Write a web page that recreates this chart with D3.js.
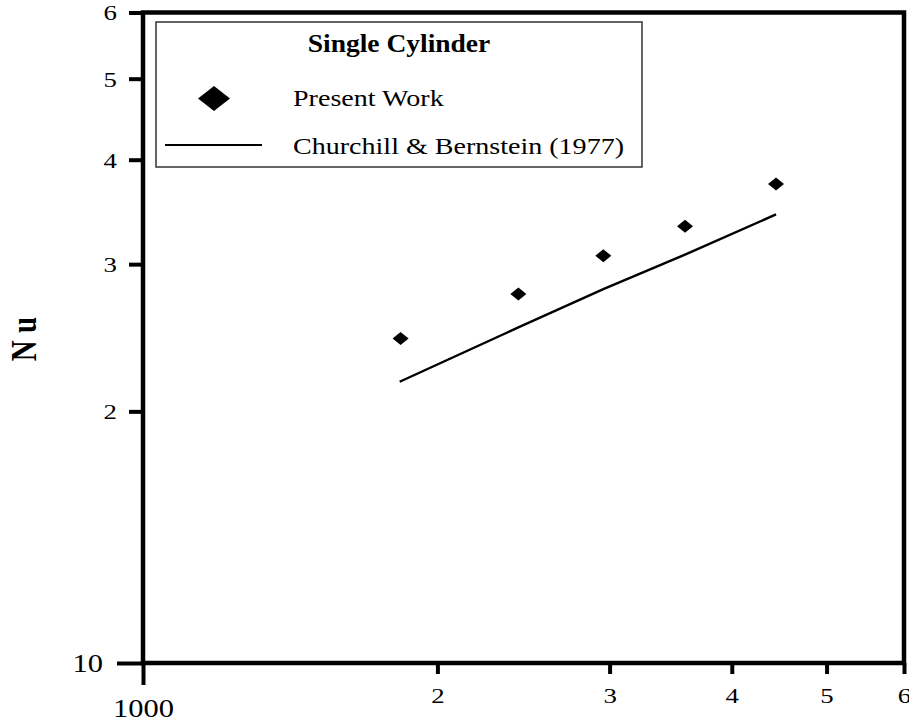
<!DOCTYPE html>
<html>
<head>
<meta charset="utf-8">
<script src="https://cdn.jsdelivr.net/npm/d3@7"></script>
<style>
  html, body { margin: 0; padding: 0; background: #fff; }
  svg { display: block; font-family: "Liberation Serif", "Times New Roman", serif; }
</style>
</head>
<body>
<svg id="chart" width="909" height="724"></svg>
<script>
// ---- data ----
const presentRe = [1834, 2420, 2956, 3583, 4439];
const presentNu = [24.45, 27.63, 30.70, 33.29, 37.41];
const cbRe = [1830, 2420, 2956, 3583, 4439];
const cbNu = [21.7, 25.2, 28.0, 30.8, 34.4];

const xMinorTicks = [2000, 3000, 4000, 5000, 6000];
const xMinorLabels = ["2", "3", "4", "5", "6"];
const xMajorTicks = [1000];
const xMajorLabels = ["1000"];
const yMinorTicks = [20, 30, 40, 50, 60];
const yMinorLabels = ["2", "3", "4", "5", "6"];
const yMajorTicks = [10];
const yMajorLabels = ["10"];

const legendTitle = "Single Cylinder";
const legendLabels = ["Present Work", "Churchill & Bernstein (1977)"];
const yTitle = "N u";

// ---- layout ----
const SX = 1.22; // horizontal text stretch of the reference
const svg = d3.select("#chart");
const plotL = 143, plotR = 904, plotT = 12.5, plotB = 663;

const x = d3.scaleLog().domain([1000, 6000]).range([plotL, plotR]);
const y = d3.scaleLog().domain([10, 60]).range([plotB, plotT]);

// axes
function styleAxis(g, fontSize) {
  g.select(".domain").remove();
  g.selectAll(".tick line").attr("stroke", "#000").attr("stroke-width", 4);
  g.selectAll(".tick text").attr("fill", "#000").style("font-size", fontSize + "px")
    .style("font-family", '"Liberation Serif", "Times New Roman", serif');
}

const xMinor = svg.append("g").attr("transform", `translate(0,${plotB})`)
  .call(d3.axisBottom(x).tickValues(xMinorTicks).tickSize(11)
    .tickFormat((d, i) => xMinorLabels[i]));
styleAxis(xMinor, 22);
xMinor.selectAll(".tick text").attr("y", 40).attr("dy", null).attr("transform", `scale(${SX},1)`);

const xMajor = svg.append("g").attr("transform", `translate(0,${plotB})`)
  .call(d3.axisBottom(x).tickValues(xMajorTicks).tickSize(22)
    .tickFormat((d, i) => xMajorLabels[i]));
styleAxis(xMajor, 25);
xMajor.selectAll(".tick text").attr("y", 54).attr("dy", null).attr("transform", `scale(${SX},1)`);

const yMinor = svg.append("g").attr("transform", `translate(${plotL},0)`)
  .call(d3.axisLeft(y).tickValues(yMinorTicks).tickSize(14)
    .tickFormat((d, i) => yMinorLabels[i]));
styleAxis(yMinor, 22);
yMinor.selectAll(".tick text").attr("x", -26 / SX).attr("dy", "0.34em").attr("transform", `scale(${SX},1)`);

const yMajor = svg.append("g").attr("transform", `translate(${plotL},0)`)
  .call(d3.axisLeft(y).tickValues(yMajorTicks).tickSize(26)
    .tickFormat((d, i) => yMajorLabels[i]));
styleAxis(yMajor, 25);
yMajor.selectAll(".tick text").attr("x", -40 / SX).attr("dy", "0.34em").attr("transform", `scale(${SX},1)`);

// frame
svg.append("rect")
  .attr("x", plotL).attr("y", plotT)
  .attr("width", plotR - plotL).attr("height", plotB - plotT)
  .attr("fill", "none").attr("stroke", "#000").attr("stroke-width", 4.5);

// y title
svg.append("text")
  .attr("transform", `translate(36,339) scale(${SX},1) rotate(-90)`)
  .attr("text-anchor", "middle")
  .style("font-size", "29px").style("font-weight", "bold")
  .attr("fill", "#000")
  .text(yTitle);

// diamond symbol path (wider than tall)
function diamond(w, h) {
  return `M0,${-h / 2}L${w / 2},0L0,${h / 2}L${-w / 2},0Z`;
}

// Churchill & Bernstein line
const line = d3.line().x((d, i) => x(cbRe[i])).y(d => y(d));
svg.append("path")
  .datum(cbNu)
  .attr("d", line)
  .attr("fill", "none").attr("stroke", "#000").attr("stroke-width", 2.4);

// Present work diamonds
svg.append("g").selectAll("path")
  .data(presentNu)
  .join("path")
  .attr("transform", (d, i) => `translate(${x(presentRe[i])},${y(d)})`)
  .attr("d", diamond(16, 13))
  .attr("fill", "#000");

// legend
const lg = svg.append("g");
lg.append("rect")
  .attr("x", 156).attr("y", 22).attr("width", 486).attr("height", 145)
  .attr("fill", "#fff").attr("stroke", "#333").attr("stroke-width", 1.5);
lg.append("text")
  .attr("transform", `translate(399,51.5) scale(1.1,1)`)
  .attr("text-anchor", "middle")
  .style("font-size", "25px").style("font-weight", "bold")
  .attr("fill", "#000")
  .text(legendTitle);
lg.append("path")
  .attr("transform", "translate(214,98.5)")
  .attr("d", diamond(32, 25))
  .attr("fill", "#000");
lg.append("text")
  .attr("transform", `translate(293,106) scale(${SX},1)`)
  .style("font-size", "23px").attr("fill", "#000")
  .text(legendLabels[0]);
lg.append("line")
  .attr("x1", 165).attr("x2", 262).attr("y1", 145).attr("y2", 145)
  .attr("stroke", "#000").attr("stroke-width", 2.2);
lg.append("text")
  .attr("transform", `translate(293,154) scale(${SX},1)`)
  .style("font-size", "23px").attr("fill", "#000")
  .text(legendLabels[1]);
</script>
</body>
</html>
